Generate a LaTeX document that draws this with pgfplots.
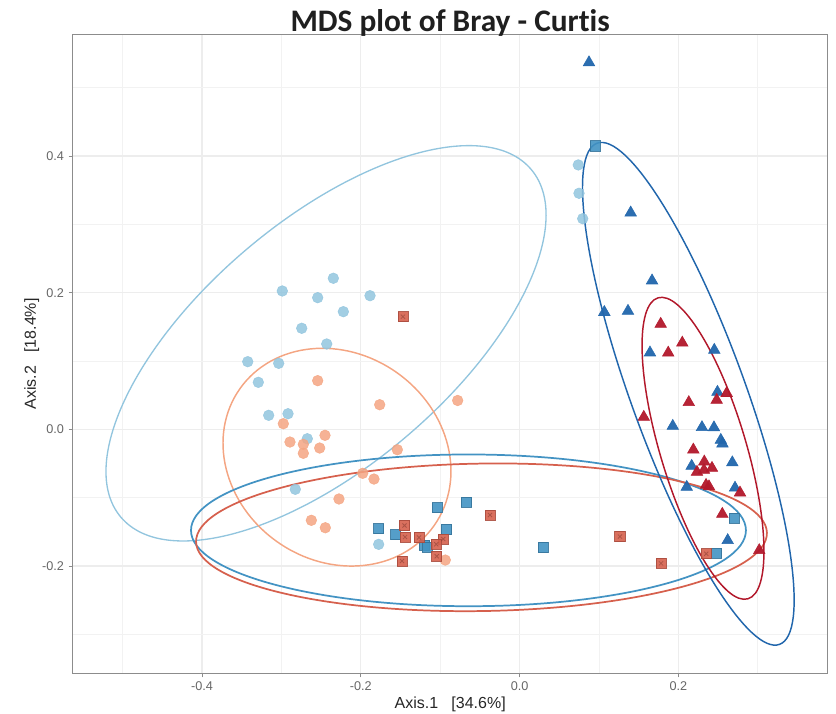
\documentclass[border=0pt]{standalone}
\usepackage{fontspec}
\setmainfont{Liberation Sans}
\newfontfamily\titlefont[Ligatures={NoCommon,NoRare}]{Carlito}
\usepackage{pgfplots}
\pgfplotsset{compat=1.18}
\definecolor{cLB}{HTML}{92C5DE}
\definecolor{cSA}{HTML}{F4A582}
\definecolor{cBL}{HTML}{4393C3}
\definecolor{cRD}{HTML}{D6604D}
\definecolor{cDB}{HTML}{2166AC}
\definecolor{cDR}{HTML}{B2182B}
\pgfplotstableread{
x y
-0.1469 0.1649
-0.1450 -0.1408
-0.1443 -0.1577
-0.1267 -0.1584
-0.0962 -0.1606
-0.1050 -0.1682
-0.1044 -0.1858
-0.1481 -0.1928
-0.0373 -0.1255
0.1264 -0.1570
0.1781 -0.1962
0.2351 -0.1821
}\redsq
\begin{document}
\begin{tikzpicture}
\useasboundingbox (0,0) rectangle (627pt,535.5pt);
\begin{axis}[
  at={(54.5pt,30.5pt)}, anchor=south west,
  width=566.25pt, height=479pt, scale only axis,
  xmin=-0.5629, xmax=0.3880, ymin=-0.3572, ymax=0.5777,
  xtick={-0.4,-0.2,0,0.2}, ytick={-0.2,0,0.2,0.4},
  minor xtick={-0.5,-0.3,-0.1,0.1,0.3},
  minor ytick={-0.3,-0.1,0.1,0.3,0.5},
  xticklabels={-0.4,-0.2,0.0,0.2}, yticklabels={-0.2,0.0,0.2,0.4},
  grid=both,
  major grid style={draw=black!7, line width=0.9pt},
  minor grid style={draw=black!5, line width=0.6pt},
  minor tick length=0pt, major tick length=3pt,
  tick align=outside, xtick pos=bottom, ytick pos=left,
  tick style={black!45, line width=0.6pt},
  axis line style={black!45, line width=0.7pt},
  ticklabel style={font=\fontsize{9.5}{11}\selectfont, text=black!60},
  /pgf/number format/assume math mode=true,
  xlabel={Axis.1\ \ \ [34.6\%]}, ylabel={Axis.2\ \ \ [18.4\%]},
  xlabel style={at={(axis description cs:0.5,-0.0485)}, anchor=center, font=\fontsize{12}{14}\selectfont, text=black!85},
  ylabel style={at={(axis description cs:-0.0543,0.5)}, anchor=center, font=\fontsize{12}{14}\selectfont, text=black!85},
  title={MDS plot of Bray - Curtis},
  title style={at={(axis description cs:0.5,1)}, anchor=base, yshift=-4pt, font=\titlefont\bfseries\fontsize{23.5}{26}\selectfont, text=black!88},
]
% light blue circles
\addplot[only marks, color=cLB, mark=*, mark size=4pt, mark options={draw=cLB, fill=cLB, opacity=0.85}] coordinates {
(-0.2346,0.2211) (-0.2989,0.2025) (-0.2543,0.1927) (-0.1884,0.1956) (-0.2220,0.1722)
(-0.2744,0.1479) (-0.2429,0.1249) (-0.3424,0.0990) (-0.3034,0.0966) (-0.3291,0.0688)
(-0.3160,0.0205) (-0.2917,0.0228) (-0.2674,-0.0138) (-0.2825,-0.0878) (-0.1775,-0.1684)
(0.0739,0.3870) (0.0748,0.3455) (0.0795,0.3083)
};
% salmon circles
\addplot[only marks, color=cSA, mark=*, mark size=4pt, mark options={draw=cSA, fill=cSA, opacity=0.85}] coordinates {
(-0.2543,0.0712) (-0.1762,0.0360) (-0.0780,0.0422) (-0.2976,0.0082) (-0.2892,-0.0186)
(-0.2724,-0.0220) (-0.2724,-0.0351) (-0.2451,-0.0088) (-0.2518,-0.0274) (-0.1540,-0.0299)
(-0.1976,-0.0644) (-0.1834,-0.0728) (-0.2275,-0.1020) (-0.2623,-0.1332) (-0.2447,-0.1441)
(-0.0936,-0.1914)
};
% blue squares
\addplot[only marks, color=cBL, mark=square*, mark size=3.8pt, mark options={draw=cBL!80!black, line width=0.6pt, fill=cBL, opacity=0.9}] coordinates {
(0.0950,0.4148) (-0.1775,-0.1455) (-0.1560,-0.1543) (-0.1040,-0.1148) (-0.0921,-0.1467)
(-0.1198,-0.1694) (-0.1166,-0.1723) (-0.0669,-0.1069) (0.0295,-0.1731) (0.2700,-0.1299)
(0.2482,-0.1816)
};
% red squares
\addplot[only marks, color=cRD, mark=square*, mark size=3.8pt, mark options={draw=cRD!80!black, line width=0.6pt, fill=cRD, opacity=0.9}] table {\redsq};
\addplot[only marks, color=cRD!60!black, mark=x, mark size=2.2pt, mark options={line width=0.6pt, opacity=0.5}] table {\redsq};
% dark blue triangles
\addplot[only marks, color=cDB, mark=triangle*, mark size=5pt, mark options={draw=cDB, fill=cDB, opacity=0.95}] coordinates {
(0.0874,0.5370) (0.1399,0.3171) (0.1668,0.2176) (0.1067,0.1715) (0.1365,0.1732)
(0.1642,0.1122) (0.2452,0.1161) (0.2492,0.0546) (0.1929,0.0048) (0.2297,0.0029)
(0.2448,0.0026) (0.2534,-0.0157) (0.2555,-0.0211) (0.2167,-0.0537) (0.2679,-0.0486)
(0.2105,-0.0845) (0.2713,-0.0857) (0.2621,-0.1625)
};
% dark red triangles
\addplot[only marks, color=cDR, mark=triangle*, mark size=5pt, mark options={draw=cDR, fill=cDR, opacity=0.95}] coordinates {
(0.1777,0.1542) (0.2049,0.1266) (0.1872,0.1120) (0.2608,0.0529) (0.2482,0.0429)
(0.2131,0.0395) (0.1564,0.0180) (0.2188,-0.0299) (0.2326,-0.0474) (0.2423,-0.0567)
(0.2322,-0.0596) (0.2234,-0.0625) (0.2348,-0.0816) (0.2385,-0.0837) (0.2776,-0.0928)
(0.2553,-0.1240) (0.3018,-0.1772)
};
% confidence ellipses
\draw[cLB, line width=1pt, rotate around={40.3:(axis cs:-0.2438,0.1259)}] (axis cs:-0.2438,0.1259) ellipse [x radius=201.7pt, y radius=92.3pt];
\draw[cSA, line width=1.1pt, rotate around={-35.2:(axis cs:-0.2300,-0.0408)}] (axis cs:-0.2300,-0.0408) ellipse [x radius=89.1pt, y radius=77.7pt];
\draw[cBL, line width=1.3pt] (axis cs:-0.0644,-0.1479) ellipse [x radius=208.1pt, y radius=56.9pt];
\draw[cRD, line width=1.3pt, rotate around={0.9:(axis cs:-0.0480,-0.1581)}] (axis cs:-0.0480,-0.1581) ellipse [x radius=214.1pt, y radius=55.3pt];
\draw[cDB, line width=1.1pt, rotate around={-70.0:(axis cs:0.2125,0.0520)}] (axis cs:0.2125,0.0520) ellipse [x radius=200pt, y radius=42.8pt];
\draw[cDR, line width=1.1pt, rotate around={-73.35:(axis cs:0.2310,-0.0278)}] (axis cs:0.2310,-0.0278) ellipse [x radius=117.8pt, y radius=32.2pt];
\end{axis}
\end{tikzpicture}
\end{document}
